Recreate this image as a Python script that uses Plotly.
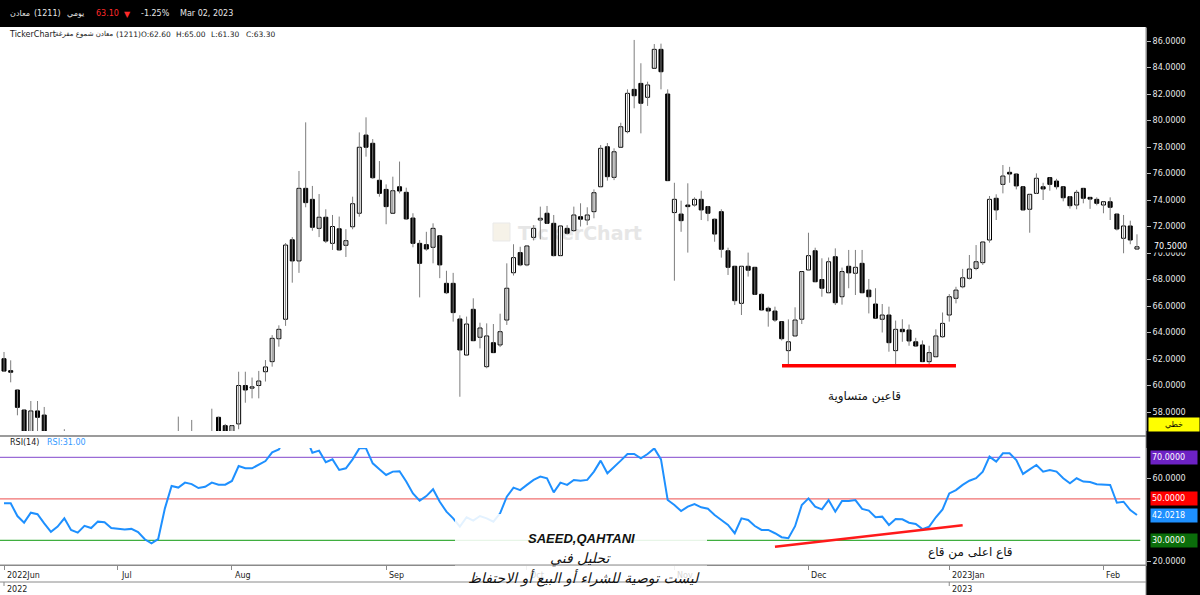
import plotly.graph_objects as go

W, H = 1200, 595

# ---------------- data ----------------
opens = [62.02, 61.12, 59.66, 58.15, 55.90, 58.08, 57.77, 56.30, 55.20, 55.60,
         56.20, 55.30, 55.00, 55.60, 55.40, 55.90, 55.85, 55.30, 55.25, 55.15,
         55.20, 54.90, 54.20, 53.90, 54.20, 55.40, 56.50, 56.30, 56.45, 56.40,
         56.10, 56.20, 57.60, 56.97, 56.30, 57.10, 60.00, 59.80, 60.00, 61.04,
         61.80, 63.53, 65.00, 71.00, 69.40, 74.88, 74.05, 71.86, 72.70, 70.73,
         71.83, 70.58, 71.98, 73.00, 78.90, 78.28, 75.49, 74.80, 73.00, 75.00,
         74.58, 72.64, 70.73, 70.63, 70.43, 71.30, 67.71, 67.71, 65.02, 62.30,
         65.75, 63.64, 61.42, 63.23, 63.06, 64.94, 68.51, 70.03, 69.10, 71.18,
         72.49, 73.00, 72.24, 69.80, 71.86, 71.69, 72.74, 72.49, 73.12, 75.00,
         78.02, 75.71, 77.98, 79.16, 82.35, 82.80, 81.75, 83.94, 85.37, 82.00,
         73.05, 72.94, 73.62, 73.62, 74.05, 73.50, 72.55, 73.12, 70.17, 69.00,
         66.20, 69.00, 68.92, 66.88, 65.83, 65.62, 64.82, 62.63, 63.74, 65.00,
         68.72, 70.17, 68.00, 67.00, 69.72, 66.70, 69.00, 68.47, 69.22, 67.20,
         66.15, 65.00, 65.32, 62.63, 64.24, 64.19, 63.30, 63.06, 61.80, 62.17,
         63.68, 65.32, 66.58, 67.45, 68.09, 68.84, 69.27, 70.98, 74.13, 75.18,
         76.09, 75.96, 75.00, 73.30, 74.50, 75.00, 75.69, 75.43, 75.00, 74.25,
         73.62, 74.88, 74.20, 74.05, 73.62, 73.87, 72.94, 71.11, 72.04, 70.30]
highs = [62.53, 61.90, 59.70, 58.20, 58.83, 58.83, 58.38, 56.40, 55.90, 56.70,
         56.30, 55.50, 55.80, 55.80, 56.10, 56.10, 55.90, 55.50, 55.40, 55.40,
         55.30, 55.00, 54.30, 54.30, 55.60, 56.50, 57.65, 56.55, 57.40, 56.50,
         56.40, 58.25, 57.65, 57.10, 57.00, 61.04, 61.04, 60.60, 61.10, 61.92,
         63.80, 64.54, 70.75, 71.20, 76.19, 79.86, 75.06, 74.45, 73.30, 72.87,
         72.75, 71.80, 74.25, 79.10, 80.24, 78.60, 76.94, 75.18, 75.76, 76.90,
         74.93, 73.00, 70.98, 71.60, 72.24, 71.30, 68.66, 68.50, 65.30, 65.20,
         66.58, 64.74, 64.69, 64.64, 65.42, 69.22, 70.66, 70.47, 70.60, 72.10,
         73.50, 73.55, 72.87, 72.04, 72.10, 73.50, 73.75, 73.45, 74.80, 78.15,
         78.30, 77.90, 79.83, 82.35, 86.08, 84.32, 82.93, 85.77, 85.80, 82.35,
         75.30, 73.95, 75.26, 74.20, 74.70, 73.55, 72.60, 73.30, 70.40, 69.00,
         69.00, 70.03, 68.92, 66.95, 65.95, 65.95, 64.82, 64.99, 65.90, 68.60,
         71.53, 70.40, 69.60, 69.66, 70.35, 68.90, 70.23, 70.23, 70.23, 68.04,
         67.34, 66.15, 65.95, 64.90, 65.00, 64.60, 63.60, 63.40, 63.00, 64.24,
         65.51, 66.90, 67.45, 68.80, 69.85, 70.60, 70.83, 74.30, 74.43, 76.64,
         76.50, 76.00, 75.00, 74.43, 76.01, 75.30, 75.69, 75.60, 75.00, 74.30,
         74.76, 74.88, 74.20, 74.20, 73.87, 74.20, 72.94, 72.87, 72.44, 71.41]
lows = [61.05, 60.24, 57.75, 55.60, 55.70, 56.20, 56.00, 55.00, 55.00, 55.50,
        55.10, 54.80, 54.90, 55.20, 55.30, 55.60, 55.20, 55.10, 55.00, 55.00,
        54.80, 54.10, 53.70, 53.80, 54.10, 55.30, 56.00, 56.10, 56.10, 55.90,
        55.90, 56.00, 56.20, 56.10, 56.20, 56.70, 58.70, 59.03, 59.03, 60.30,
        61.42, 62.93, 64.50, 67.76, 68.50, 73.45, 71.68, 71.20, 70.75, 70.23,
        70.20, 69.70, 71.79, 72.74, 77.27, 75.60, 74.25, 72.17, 73.00, 74.50,
        72.50, 70.43, 66.65, 70.17, 69.22, 68.10, 66.90, 64.82, 59.15, 62.30,
        63.38, 62.80, 61.30, 62.48, 62.90, 64.57, 68.30, 69.00, 69.00, 70.95,
        71.03, 72.20, 69.75, 69.80, 71.40, 71.60, 72.00, 72.10, 72.62, 75.00,
        75.46, 75.50, 77.98, 79.03, 80.92, 79.03, 81.10, 83.94, 82.35, 75.46,
        67.91, 71.60, 70.03, 73.50, 72.49, 72.40, 70.85, 69.65, 68.34, 66.08,
        65.32, 68.22, 66.85, 65.70, 64.44, 64.80, 63.40, 61.42, 63.74, 64.64,
        68.70, 67.83, 66.70, 67.00, 66.08, 66.10, 67.34, 66.83, 67.00, 65.44,
        65.08, 64.00, 62.55, 61.62, 63.30, 63.00, 62.95, 61.80, 61.60, 62.17,
        63.60, 64.82, 66.20, 67.34, 68.00, 68.70, 69.10, 70.78, 72.49, 74.50,
        75.30, 74.80, 73.25, 71.53, 74.45, 74.00, 74.70, 74.80, 73.90, 73.35,
        73.30, 73.75, 73.33, 73.60, 73.00, 72.49, 71.70, 69.98, 70.66, 70.30]
closes = [61.09, 61.00, 58.35, 56.00, 58.08, 57.60, 56.30, 55.20, 55.60, 56.30,
          55.30, 55.00, 55.60, 55.40, 55.90, 55.85, 55.30, 55.25, 55.15, 55.20,
          54.90, 54.20, 53.90, 54.10, 55.40, 56.40, 56.30, 56.45, 56.40, 56.10,
          56.20, 56.50, 56.40, 56.30, 56.97, 60.00, 59.66, 59.85, 60.34, 61.40,
          63.56, 64.24, 70.60, 69.40, 74.88, 73.80, 71.94, 72.70, 70.90, 72.00,
          70.23, 70.93, 73.72, 77.98, 77.98, 75.68, 74.50, 73.50, 74.70, 74.68,
          72.57, 70.73, 69.22, 70.30, 71.86, 69.10, 67.00, 65.50, 62.68, 64.64,
          63.38, 64.34, 63.74, 62.48, 64.06, 67.34, 69.65, 69.10, 70.53, 71.86,
          72.62, 72.24, 69.80, 72.04, 71.49, 72.87, 72.55, 72.87, 74.55, 77.90,
          75.76, 77.64, 79.53, 82.05, 81.87, 81.30, 82.68, 85.37, 83.68, 75.46,
          74.05, 72.44, 73.50, 74.05, 73.25, 73.00, 71.43, 70.28, 68.92, 66.40,
          69.00, 68.70, 66.88, 65.70, 65.62, 64.94, 63.53, 63.30, 64.94, 68.60,
          69.80, 67.83, 67.34, 69.34, 66.25, 68.60, 68.50, 68.92, 67.00, 66.70,
          65.08, 65.32, 63.23, 64.24, 64.06, 63.36, 62.98, 61.80, 62.48, 63.74,
          64.69, 66.70, 67.20, 68.13, 68.79, 69.34, 70.83, 74.05, 73.25, 75.81,
          75.96, 75.06, 73.25, 74.43, 75.64, 74.83, 75.18, 75.00, 74.17, 73.57,
          74.58, 74.13, 74.07, 73.75, 73.87, 73.45, 71.81, 72.04, 70.98, 70.47]
rsi = [47.8, 47.8, 41.7, 38.5, 43.3, 42.6, 38.2, 34.1, 36.6, 40.6,
       35.0, 33.7, 37.0, 35.9, 39.0, 38.7, 35.9, 35.7, 35.2, 35.5,
       34.0, 30.5, 28.5, 30.6, 45.4, 56.2, 55.4, 57.8, 57.1, 55.2,
       55.8, 57.8, 56.8, 56.8, 58.6, 65.8, 64.7, 64.7, 66.3, 68.2,
       72.4, 73.8, 79.5, 77.5, 82.0, 80.0, 72.2, 73.2, 67.6, 69.0,
       63.9, 64.7, 69.0, 74.3, 74.3, 67.1, 64.2, 61.5, 63.1, 63.3,
       58.3, 52.6, 49.1, 51.3, 54.6, 48.6, 43.8, 40.6, 36.6, 41.1,
       39.5, 41.7, 40.6, 39.0, 43.0, 51.0, 55.4, 54.2, 56.7, 59.1,
       60.7, 59.9, 53.1, 57.8, 56.7, 59.1, 58.7, 59.1, 63.1, 68.4,
       62.3, 65.2, 68.4, 71.6, 71.6, 69.5, 71.6, 74.3, 69.0, 49.4,
       47.0, 44.1, 46.2, 47.5, 45.9, 45.2, 42.2, 39.8, 37.4, 33.4,
       40.6, 39.8, 36.9, 35.0, 35.0, 33.4, 31.5, 31.0, 36.8, 47.0,
       50.2, 46.2, 44.9, 49.4, 43.8, 48.9, 48.9, 49.4, 45.1, 44.3,
       41.1, 41.4, 37.4, 40.3, 40.1, 38.5, 37.9, 35.4, 36.6, 41.1,
       44.9, 52.6, 54.2, 56.7, 58.7, 59.9, 63.1, 70.3, 67.9, 71.9,
       71.9, 68.7, 62.0, 64.2, 66.3, 63.1, 63.9, 63.1, 59.9, 57.5,
       59.9, 58.3, 58.1, 57.0, 56.7, 56.7, 48.1, 48.6, 44.6, 42.2]

month_idx = [0, 17, 34, 57, 78, 100, 120, 141, 164]
month_labels = ["2022Jun", "Jul", "Aug", "Sep", "Oct", "Nov", "Dec", "2023Jan", "Feb"]
year_idx = [0, 141]
year_labels = ["2022", "2023"]
price_ticks = list(range(58, 87, 2))
rsi_ticks = [20, 60]
rsi_levels = [70, 50, 30]
rsi_level_colors = ["#9a6bd6", "#f07070", "#3fae3f"]
rsi_level_boxes = ["#6d22c4", "#ff0000", "#0b6e0b"]
last_rsi = 42.0218
last_price_label = 70.5
support_x = [116.05, 142.0]
support_y = [61.49, 61.49]
trend_x = [115.0, 143.0]
trend_y = [26.9, 37.2]

# ---------------- helpers ----------------
def py(p):
    return 1 - p / H

def pxp(p):
    return p / W

PLOT_R = 1146
SPACING = 6.704
AX = "DejaVu Sans"

fig = go.Figure()

idx = list(range(len(opens)))
wx, wy = [], []
for i, (h, l) in enumerate(zip(highs, lows)):
    wx += [i, i, None]
    wy += [h, l, None]
fig.add_trace(go.Scatter(x=wx, y=wy, mode="lines", line=dict(color="#7d7d7d", width=1),
                         xaxis="x", yaxis="y", hoverinfo="skip", showlegend=False))
base = [min(o, c) for o, c in zip(opens, closes)]
hgt = [max(abs(c - o), 0.1) for o, c in zip(opens, closes)]
cols = ["#ffffff" if c >= o else "#000000" for o, c in zip(opens, closes)]
fig.add_trace(go.Bar(x=idx, y=hgt, base=base, width=0.6,
                     marker=dict(color=cols, line=dict(color="#000000", width=1)),
                     xaxis="x", yaxis="y", showlegend=False, hoverinfo="skip"))
fig.add_trace(go.Scatter(x=idx, y=rsi, mode="lines", line=dict(color="#1e90ff", width=2),
                         xaxis="x2", yaxis="y2", showlegend=False, hoverinfo="skip"))

xr = [-4 / SPACING, (PLOT_R - 4) / SPACING]
yfont = dict(family=AX, size=8, color="#e8e8e8")
fig.update_layout(
    width=W, height=H, margin=dict(l=0, r=0, t=0, b=0),
    paper_bgcolor="#ffffff", plot_bgcolor="#ffffff", barmode="overlay", showlegend=False,
    xaxis=dict(domain=[0, pxp(PLOT_R)], range=xr, anchor="y", showticklabels=False,
               showgrid=False, zeroline=False, ticks=""),
    xaxis2=dict(domain=[0, pxp(PLOT_R)], matches="x", anchor="y2", showticklabels=False,
                showgrid=False, zeroline=False, ticks="outside", ticklen=4, tickcolor="#8a8a8a",
                tickvals=month_idx, showline=True, linecolor="#8a8a8a", linewidth=1),
    yaxis=dict(domain=[py(431), py(28)], range=[86 - 390 / 13.25, 86 + 13 / 13.25], anchor="x",
               side="right", tickvals=price_ticks, tickformat=".4f", ticks="outside", ticklen=4,
               tickcolor="#bbbbbb", tickfont=yfont, showgrid=False, zeroline=False,
               showline=True, linecolor="#8a8a8a"),
    yaxis2=dict(domain=[py(565), py(448)], range=[18.10, 74.48], anchor="x2", side="right",
                tickvals=rsi_ticks, tickformat=".4f", ticks="outside", ticklen=4,
                tickcolor="#bbbbbb", tickfont=yfont, showgrid=False, zeroline=False,
                showline=True, linecolor="#8a8a8a"),
)

shapes = []
# dark header and right column
shapes.append(dict(type="rect", xref="paper", yref="paper", x0=0, x1=1, y0=py(27), y1=1,
                   fillcolor="#000000", line=dict(width=0), layer="below"))
shapes.append(dict(type="rect", xref="paper", yref="paper", x0=pxp(PLOT_R), x1=1, y0=0, y1=py(27),
                   fillcolor="#000000", line=dict(width=0), layer="below"))
# watermark
shapes.append(dict(type="rect", xref="x domain", yref="y domain", x0=(493) / PLOT_R, x1=(510) / PLOT_R,
                   y0=(431 - 241) / 403, y1=(431 - 223) / 403, fillcolor="#f6f2e8",
                   line=dict(color="#e9e9e9", width=1), layer="below"))
shapes.append(dict(type="rect", xref="x domain", yref="y domain", x0=515 / PLOT_R, x1=645 / PLOT_R,
                   y0=(431 - 243) / 403, y1=(431 - 221) / 403, line=dict(width=0),
                   fillcolor="rgba(0,0,0,0)", layer="below",
                   label=dict(text="<b>TickerChart</b>", font=dict(family=AX, size=19, color="#e6e6e6"),
                              textposition="middle center")))
# RSI levels
for lv, lc in zip(rsi_levels, rsi_level_colors):
    shapes.append(dict(type="line", xref="x2 domain", yref="y2", x0=0, x1=0.995, y0=lv, y1=lv,
                       line=dict(color=lc, width=1.3), layer="below"))
# red lines drawn by the analyst
shapes.append(dict(type="line", xref="x", yref="y", x0=support_x[0], x1=support_x[1],
                   y0=support_y[0], y1=support_y[1], line=dict(color="#ff0000", width=3.5), layer="above"))
shapes.append(dict(type="line", xref="x2", yref="y2", x0=trend_x[0], x1=trend_x[1],
                   y0=trend_y[0], y1=trend_y[1], line=dict(color="#ff1a1a", width=2.5), layer="above"))
# text boxes in RSI pane
shapes.append(dict(type="rect", xref="paper", yref="paper", x0=pxp(455), x1=pxp(707), y0=py(594), y1=py(514),
                   fillcolor="rgba(255,255,255,0.88)", line=dict(width=0), layer="above"))
shapes.append(dict(type="rect", xref="paper", yref="paper", x0=pxp(925), x1=pxp(1015), y0=py(563), y1=py(541),
                   fillcolor="#ffffff", line=dict(width=0), layer="above"))
# frame lines
for yy, col, wd in [(436, "#7a7a7a", 1.5), (565, "#8a8a8a", 1), (582, "#8a8a8a", 1)]:
    shapes.append(dict(type="line", xref="paper", yref="paper", x0=0, x1=pxp(PLOT_R), y0=py(yy), y1=py(yy),
                       line=dict(color=col, width=wd), layer="above"))
shapes.append(dict(type="line", xref="paper", yref="paper", x0=pxp(PLOT_R), x1=pxp(PLOT_R), y0=0, y1=py(27),
                   line=dict(color="#8a8a8a", width=1), layer="above"))
for yi in year_idx:
    shapes.append(dict(type="line", xref="x2", yref="paper", x0=yi, x1=yi, y0=py(582), y1=py(586),
                       line=dict(color="#8a8a8a", width=1), layer="above"))
fig.update_layout(shapes=shapes)

ann = []
def txt(x, y, s, size=8, color="#222222", anchor="left", family=AX, **kw):
    ann.append(dict(x=pxp(x), y=py(y), xref="paper", yref="paper", text=s, showarrow=False,
                    xanchor=anchor, yanchor="middle", font=dict(family=family, size=size, color=color), **kw))

# header (Arabic pieces centred to avoid RTL anchoring shifts)
hc = "#e6e6e6"
txt(20, 13, "معادن", 8, hc, anchor="center")
txt(32, 13, "(1211)", 8, hc)
txt(75, 13, "يومي", 8, hc, anchor="center")
txt(94, 13, "63.10", 8, "#ff2a2a")
txt(122, 14, "▼", 8, "#ff2a2a")
txt(139, 13, "-1.25%", 8, hc)
txt(178, 13, "Mar 02, 2023", 8, hc)
# info line
txt(7, 34, "TickerChart", 8, "#1a1a1a")
txt(84, 34, "معادن شموع مفرغة", 7, "#1a1a1a", anchor="center")
for xx, s in [(114, "(1211)"), (139, "O:62.60"), (174, "H:65.00"), (209, "L:61.30"), (244, "C:63.30")]:
    txt(xx, 34, s, 7.5, "#1a1a1a")
# RSI title
txt(8, 442, "RSI(14)", 8, "#1a1a1a")
txt(45, 442, "RSI:31.00", 8, "#3399ff")

# x-axis labels (from lists); labels under the note box look faded
for mi, ml in zip(month_idx, month_labels):
    xp = 4 + SPACING * mi
    col = "#d8d8d8" if 455 < xp < 707 else "#222222"
    ann.append(dict(x=mi, y=py(575), xref="x2", yref="paper", text=ml, showarrow=False, xanchor="left",
                    xshift=1, yanchor="middle", font=dict(family=AX, size=8, color=col)))
for yi, yl in zip(year_idx, year_labels):
    ann.append(dict(x=yi, y=py(589), xref="x2", yref="paper", text=yl, showarrow=False, xanchor="left",
                    xshift=1, yanchor="middle", font=dict(family=AX, size=8, color="#222222")))

# right side labels
ann.append(dict(x=pxp(1152), y=last_price_label, xref="paper", yref="y", text="70.5000", showarrow=False,
                xanchor="left", yanchor="middle", bgcolor="#000000", font=dict(family=AX, size=8, color="#ffffff")))
txt(1174, 424, "خطي", 8, "#000000", anchor="center", bgcolor="#ffff00", width=48, height=11)
for lv, bc in zip(rsi_levels, rsi_level_boxes):
    ann.append(dict(x=pxp(1150), y=lv, xref="paper", yref="y2", text="%.4f" % lv, showarrow=False,
                    xanchor="left", yanchor="middle", bgcolor=bc, width=44, height=11, align="left",
                    font=dict(family=AX, size=8, color="#ffffff")))
ann.append(dict(x=pxp(1150), y=last_rsi, xref="paper", yref="y2", text="%.4f" % last_rsi, showarrow=False,
                xanchor="left", yanchor="middle", bgcolor="#1e90ff", width=44, height=11, align="left",
                font=dict(family=AX, size=8, color="#ffffff")))

# analyst notes
txt(864, 396, "قاعين متساوية", 12, "#111111", anchor="center")
txt(581, 538, "<b><i>SAEED,QAHTANI</i></b>", 13, "#111111", anchor="center", family="Liberation Sans")
txt(581, 558, "<i>تحليل فني</i>", 14, "#111111", anchor="center")
txt(584, 578, "<i>ليست توصية للشراء أو البيع أو الاحتفاظ</i>", 14, "#111111", anchor="center")
txt(970, 552, "قاع اعلى من قاع", 12, "#111111", anchor="center")

fig.update_layout(annotations=ann)
fig.write_html("out.html", config={"displayModeBar": False},
               post_script="document.body.style.margin='0';document.body.style.overflow='hidden';")
